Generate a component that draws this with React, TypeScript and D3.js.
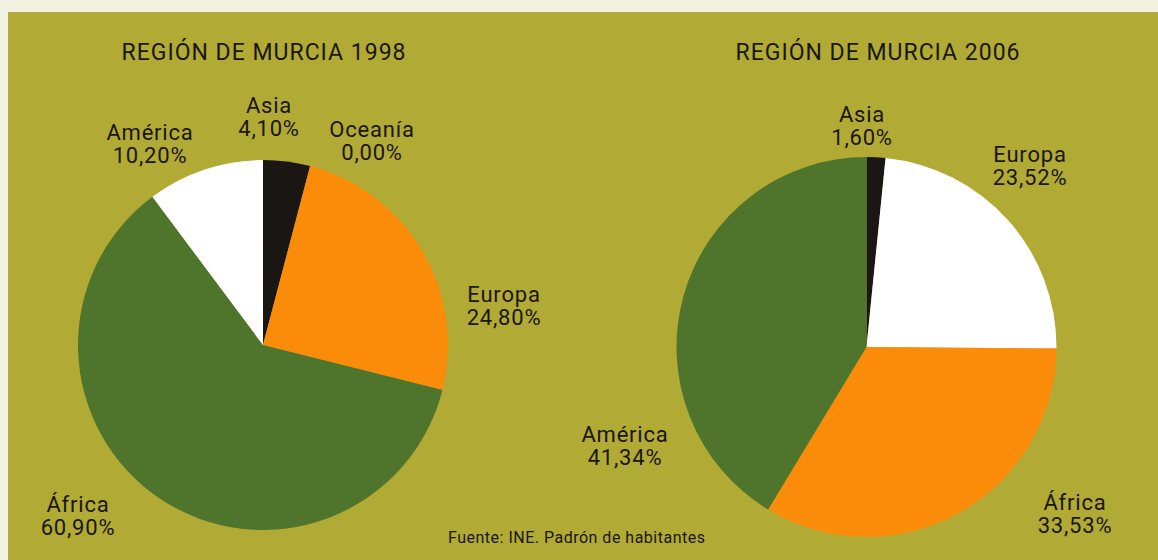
import React from "react";
import * as d3 from "d3";

const W = 1158;
const H = 560;

const regions1998 = ["Asia", "Oceanía", "Europa", "África", "América"];
const values1998 = [4.1, 0.0, 24.8, 60.9, 10.2];
const labels1998 = ["4,10%", "0,00%", "24,80%", "60,90%", "10,20%"];

const regions2006 = ["Asia", "Europa", "África", "América"];
const values2006 = [1.6, 23.52, 33.53, 41.34];
const labels2006 = ["1,60%", "23,52%", "33,53%", "41,34%"];

const colorOf: Record<string, string> = {
  Asia: "#1a1613",
  "Oceanía": "#1a1613",
  Europa: "#fb8c0a",
  "África": "#4f742b",
  "América": "#ffffff",
};
const colorOf2006: Record<string, string> = {
  Asia: "#1a1613",
  Europa: "#ffffff",
  "África": "#fb8c0a",
  "América": "#4f742b",
};

// label anchor positions (absolute, top line baseline)
const labelPos1998: [number, number][] = [
  [269, 113],
  [372, 137],
  [504, 302],
  [78, 512],
  [150, 140],
];
const labelPos2006: [number, number][] = [
  [862, 122],
  [1030, 162],
  [1075, 510],
  [625, 442],
];

const FONT = "Roboto, 'Liberation Sans', sans-serif";

function Pie({
  cx,
  cy,
  r,
  names,
  values,
  pct,
  colors,
  pos,
}: {
  cx: number;
  cy: number;
  r: number;
  names: string[];
  values: number[];
  pct: string[];
  colors: Record<string, string>;
  pos: [number, number][];
}) {
  const data = names.map((n, i) => ({ name: n, value: values[i], pct: pct[i] }));
  const pie = d3
    .pie<{ name: string; value: number; pct: string }>()
    .value((d) => d.value)
    .sort(null);
  const arc = d3
    .arc<d3.PieArcDatum<{ name: string; value: number; pct: string }>>()
    .innerRadius(0)
    .outerRadius(r);
  const arcs = pie(data);
  return (
    <g>
      <g transform={`translate(${cx},${cy})`}>
        {arcs.map((a, i) =>
          a.value > 0 ? (
            <path key={i} d={arc(a) || ""} fill={colors[a.data.name]} />
          ) : null
        )}
      </g>
      {data.map((d, i) => (
        <text
          key={i}
          x={pos[i][0]}
          y={pos[i][1]}
          textAnchor="middle"
          fontSize={22}
          fontWeight={400}
          letterSpacing={0.8}
          fill="#1a1613"
          fontFamily={FONT}
        >
          <tspan x={pos[i][0]}>{d.name}</tspan>
          <tspan x={pos[i][0]} dy={23}>
            {d.pct}
          </tspan>
        </text>
      ))}
    </g>
  );
}

export default function App() {
  return (
    <svg
      width={W}
      height={H}
      style={{ position: "absolute", left: 0, top: 0, display: "block" }}
    >
      <rect x={0} y={0} width={W} height={H} fill="#f3f1e2" />
      <rect x={8} y={12} width={W - 8} height={H - 12} fill="#b1aa35" />
      <text
        x={264}
        y={60}
        textAnchor="middle"
        fontSize={23}
        fontWeight={400}
        letterSpacing={1}
        fill="#1a1613"
        fontFamily={FONT}
      >
        REGIÓN DE MURCIA 1998
      </text>
      <text
        x={878}
        y={60}
        textAnchor="middle"
        fontSize={23}
        fontWeight={400}
        letterSpacing={1}
        fill="#1a1613"
        fontFamily={FONT}
      >
        REGIÓN DE MURCIA 2006
      </text>
      <Pie
        cx={263}
        cy={345}
        r={185}
        names={regions1998}
        values={values1998}
        pct={labels1998}
        colors={colorOf}
        pos={labelPos1998}
      />
      <Pie
        cx={866.5}
        cy={347}
        r={190}
        names={regions2006}
        values={values2006}
        pct={labels2006}
        colors={colorOf2006}
        pos={labelPos2006}
      />
      <text
        x={448}
        y={543}
        fontSize={16}
        fontWeight={400}
        letterSpacing={0.5}
        fill="#1a1613"
        fontFamily={FONT}
      >
        Fuente: INE. Padrón de habitantes
      </text>
    </svg>
  );
}
